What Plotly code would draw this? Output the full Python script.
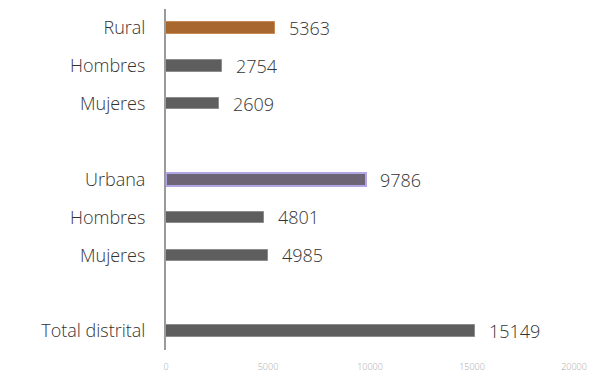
import plotly.graph_objects as go

# Population by area and sex
categories = ["Rural", "Hombres", "Mujeres", "", "Urbana", "Hombres", "Mujeres", "", "Total distrital"]
values = [5363, 2754, 2609, None, 9786, 4801, 4985, None, 15149]
bar_colors = ["#a8672f", "#5e5e5e", "#5e5e5e", None, "#6d6475", "#5e5e5e", "#5e5e5e", None, "#5e5e5e"]
edge_colors = ["#c98b55", "#8c8c8c", "#8c8c8c", None, "#b3a6e6", "#8c8c8c", "#8c8c8c", None, "#8c8c8c"]
x_ticks = [0, 5000, 10000, 15000, 20000]

rows = [i for i, v in enumerate(values) if v is not None]
font = "Open Sans, sans-serif"

fig = go.Figure()
for i in rows:
    thick = 0.36 if categories[i] == "Urbana" else 0.3
    fig.add_trace(go.Bar(
        x=[values[i]], y=[i], orientation="h", width=thick,
        marker=dict(color=bar_colors[i], line=dict(color=edge_colors[i], width=2 if categories[i] == "Urbana" else 1)),
        showlegend=False, hoverinfo="skip",
    ))
    fig.add_annotation(
        x=values[i], y=i, text=str(values[i]), showarrow=False,
        xanchor="left", yanchor="middle", xshift=12,
        font=dict(family=font, size=18, color="#333333", weight=300),
    )

fig.update_layout(
    width=593, height=373,
    margin=dict(l=166, r=19, t=9, b=23),
    paper_bgcolor="white", plot_bgcolor="white",
    bargap=0,
)
fig.update_xaxes(
    range=[0, 20000], tickvals=x_ticks, ticktext=[str(t) for t in x_ticks],
    showgrid=False, zeroline=False, showline=False, automargin=False,
    tickfont=dict(family=font, size=9, color="#a8a8a8", weight=300), ticks="",
    ticklabelstandoff=10,
)
fig.update_yaxes(
    range=[8.5, -0.5], tickvals=rows, ticktext=[categories[i] for i in rows],
    showgrid=False, zeroline=False, showline=True, linecolor="#9a9a9a", linewidth=2,
    automargin=False,
    tickfont=dict(family=font, size=18, color="#333333", weight=300), ticks="", ticklabelstandoff=15,
)

fig.write_html("out.html")
